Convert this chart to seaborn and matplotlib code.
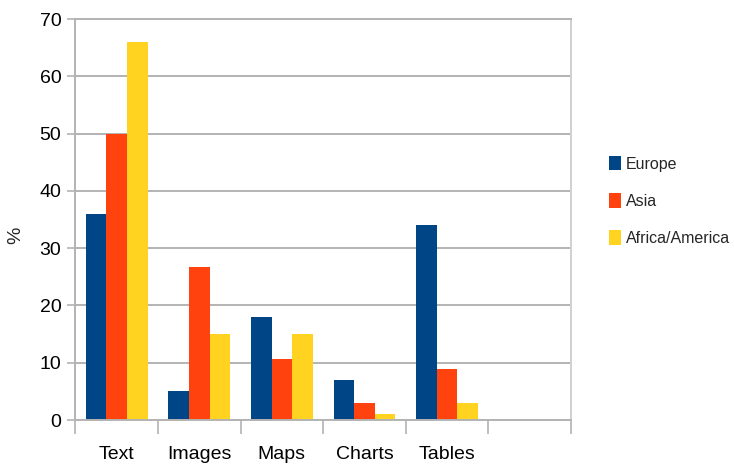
import matplotlib
matplotlib.use("Agg")
import matplotlib.pyplot as plt
import seaborn as sns
import pandas as pd
from matplotlib.ticker import FixedLocator, NullFormatter
from matplotlib.patches import Patch

categories = ["Text", "Images", "Maps", "Charts", "Tables"]
series = ["Europe", "Asia", "Africa/America"]
europe = [36, 5, 18, 7, 34]
asia = [50, 26.7, 10.7, 3, 8.9]
africa_america = [66, 15, 15, 1, 3]
colors = ["#004586", "#ff420e", "#ffd320"]
yticks = [0, 10, 20, 30, 40, 50, 60, 70]

rows = []
for name, vals in zip(series, [europe, asia, africa_america]):
    for c, v in zip(categories, vals):
        rows.append({"category": c, "region": name, "value": v})
df = pd.DataFrame(rows)

sns.set_theme(style="white")
plt.rcParams["font.family"] = ["Liberation Sans Narrow", "Liberation Sans", "DejaVu Sans"]

fig = plt.figure(figsize=(7.34, 4.66), dpi=100)
ax = fig.add_axes([0.1026, 0.0987, 0.6754, 0.8605])

sns.barplot(data=df, x="category", y="value", hue="region", order=categories,
            hue_order=series, palette=colors, width=0.75, saturation=1,
            ax=ax, legend=False, linewidth=0)

ax.set_xlim(-0.5, 5.5)
ax.set_ylim(0, 70)
ax.set_yticks(yticks)
ax.yaxis.grid(True, color="#b3b3b3", linewidth=1.4)
ax.set_axisbelow(True)
ax.tick_params(axis="y", length=6, width=1.2, color="#b3b3b3", labelsize=14, pad=4, left=True)
ax.tick_params(axis="x", which="major", length=0, labelsize=14, pad=19)
ax.xaxis.set_minor_locator(FixedLocator([i - 0.5 for i in range(7)]))
ax.xaxis.set_minor_formatter(NullFormatter())
ax.tick_params(axis="x", which="minor", length=10, width=1.2, color="#b3b3b3", bottom=True)
for s in ["left", "bottom", "right", "top"]:
    ax.spines[s].set_color("#b3b3b3")
    ax.spines[s].set_linewidth(1.4)
ax.spines["right"].set_color("#d0d0d0")
ax.set_xlabel("")
ax.set_ylabel("%", fontsize=14)
ax.yaxis.set_label_coords(-0.102, 0.46)
for lab in ax.get_xticklabels() + ax.get_yticklabels():
    lab.set_color("black")

handles = [Patch(facecolor=c, edgecolor="none") for c in colors]
fig.legend(handles, series, loc="upper left", bbox_to_anchor=(0.826, 0.672),
           frameon=False, fontsize=11.5, handlelength=0.7, handleheight=1.0,
           handletextpad=0.35, labelspacing=1.35, borderaxespad=0, borderpad=0.2)

fig.savefig("out.png", dpi=100)
